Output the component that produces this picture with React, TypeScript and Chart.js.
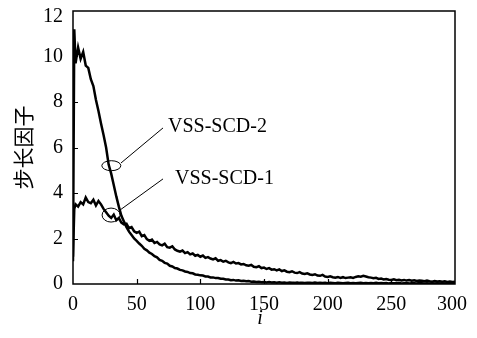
import React, { useEffect, useRef } from "react";
import { Chart, registerables } from "chart.js";

Chart.register(...registerables);

// ---------- data ----------
const iterations = [
  0, 1,
  2, 4, 6, 8, 10, 12, 14, 16, 18, 20,
  22, 24, 26, 28, 30, 32, 34, 36, 38, 40,
  42, 44, 46, 48, 50, 52, 54, 56, 58, 60,
  62, 64, 66, 68, 70, 72, 74, 76, 78, 80,
  82, 84, 86, 88, 90, 92, 94, 96, 98, 100,
  102, 104, 106, 108, 110, 112, 114, 116, 118, 120,
  122, 124, 126, 128, 130, 132, 134, 136, 138, 140,
  142, 144, 146, 148, 150, 152, 154, 156, 158, 160,
  162, 164, 166, 168, 170, 172, 174, 176, 178, 180,
  182, 184, 186, 188, 190, 192, 194, 196, 198, 200,
  202, 204, 206, 208, 210, 212, 214, 216, 218, 220,
  222, 224, 226, 228, 230, 232, 234, 236, 238, 240,
  242, 244, 246, 248, 250, 252, 254, 256, 258, 260,
  262, 264, 266, 268, 270, 272, 274, 276, 278, 280,
  282, 284, 286, 288, 290, 292, 294, 296, 298, 300,
];

const vssScd2 = [
  1.0, 11.2,
  9.7, 10.4, 9.9, 10.2, 9.6, 9.5, 9.0, 8.7, 8.1, 7.6,
  7.05, 6.55, 6.0, 5.25, 4.85, 4.35, 3.85, 3.4, 3.0, 2.75,
  2.5, 2.3, 2.15, 2.0, 1.9, 1.78, 1.68, 1.55, 1.48, 1.38,
  1.32, 1.22, 1.17, 1.06, 1.02, 0.93, 0.9, 0.8, 0.77, 0.7,
  0.68, 0.62, 0.6, 0.55, 0.53, 0.48, 0.47, 0.42, 0.41, 0.38,
  0.37, 0.33, 0.33, 0.29, 0.29, 0.26, 0.26, 0.23, 0.23, 0.2,
  0.2, 0.17, 0.18, 0.15, 0.16, 0.13, 0.14, 0.12, 0.13, 0.1,
  0.11, 0.09, 0.1, 0.08, 0.09, 0.07, 0.09, 0.07, 0.08, 0.06,
  0.08, 0.06, 0.07, 0.05, 0.07, 0.06, 0.05, 0.07, 0.05, 0.06,
  0.04, 0.06, 0.05, 0.04, 0.06, 0.04, 0.05, 0.04, 0.05, 0.03,
  0.05, 0.04, 0.03, 0.05, 0.04, 0.03, 0.04, 0.05, 0.03, 0.04,
  0.03, 0.04, 0.05, 0.03, 0.04, 0.03, 0.04, 0.03, 0.05, 0.03,
  0.04, 0.03, 0.04, 0.02, 0.04, 0.03, 0.03, 0.04, 0.02, 0.03,
  0.04, 0.02, 0.03, 0.03, 0.02, 0.04, 0.03, 0.02, 0.03, 0.02,
  0.03, 0.02, 0.03, 0.02, 0.03, 0.02, 0.03, 0.02, 0.02, 0.03,
];

const vssScd1 = [
  1.2, 3.3,
  3.5, 3.4, 3.6, 3.5, 3.8, 3.6, 3.55, 3.7, 3.45, 3.65,
  3.5, 3.3, 3.15, 3.0, 2.9, 3.05, 2.8, 2.9, 2.7, 2.62,
  2.65, 2.45, 2.5, 2.32, 2.25, 2.3, 2.1, 2.15, 1.97, 1.9,
  1.95, 1.8, 1.85, 1.74, 1.7, 1.77, 1.62, 1.6, 1.66, 1.52,
  1.46, 1.42, 1.47, 1.36, 1.4, 1.3, 1.34, 1.24, 1.28, 1.2,
  1.25, 1.15, 1.18, 1.12, 1.08, 1.13, 1.02, 1.05, 0.98, 1.02,
  0.95, 0.92, 0.97, 0.9, 0.92, 0.86, 0.88, 0.82, 0.8, 0.84,
  0.76, 0.74, 0.78, 0.7, 0.72, 0.66, 0.7, 0.63, 0.65, 0.6,
  0.64, 0.57, 0.6, 0.54, 0.52, 0.56, 0.5, 0.48, 0.52, 0.46,
  0.44, 0.47, 0.42, 0.4, 0.43, 0.37, 0.36, 0.4, 0.33, 0.31,
  0.34, 0.3, 0.28, 0.31, 0.27, 0.3, 0.26, 0.28, 0.3, 0.27,
  0.31, 0.34, 0.32, 0.36, 0.33, 0.3, 0.28, 0.25, 0.27, 0.22,
  0.24, 0.2, 0.22, 0.19, 0.18, 0.21, 0.17, 0.19, 0.16, 0.18,
  0.15, 0.17, 0.14, 0.16, 0.13, 0.15, 0.14, 0.12, 0.15, 0.12,
  0.1, 0.13, 0.11, 0.12, 0.1, 0.12, 0.09, 0.11, 0.09, 0.1,
];

const xMin = 0;
const xMax = 300;
const xStep = 50;
const yMin = 0;
const yMax = 12;
const yStep = 2;

const yAxisTitle = "步长因子";
const xAxisTitle = "i";
const seriesNames = ["VSS-SCD-1", "VSS-SCD-2"];

// callouts: ellipse centre / line start / line end / text anchor in data units
const callouts = [
  { text: "VSS-SCD-2", ellipse: [30.1, 5.2], rx: 9.5, ry: 5, from: [37.7, 5.32], to: [70.7, 6.86], label: [74.6, 6.92] },
  { text: "VSS-SCD-1", ellipse: [29.9, 3.03], rx: 9, ry: 7, from: [36.9, 3.25], to: [70.7, 4.62], label: [80.1, 4.64] },
];

const SERIF = "'Liberation Serif', 'Times New Roman', serif";
const CJK = "'Noto Sans CJK SC', 'Noto Sans CJK JP', sans-serif";
const CANVAS_W = 477;

const decorPlugin = {
  id: "decor",
  afterDatasetsDraw(chart: any) {
    const { ctx, chartArea: a, scales } = chart;
    const x = scales.x;
    const y = scales.y;
    ctx.save();
    // frame
    ctx.strokeStyle = "#000";
    ctx.lineWidth = 1.5;
    ctx.strokeRect(a.left, a.top, a.right - a.left, a.bottom - a.top);
    // inward ticks
    ctx.lineWidth = 1.2;
    ctx.beginPath();
    for (const t of x.ticks) {
      if (t.value <= xMin || t.value >= xMax) continue;
      const px = Math.round(x.getPixelForValue(t.value)) + 0.5;
      ctx.moveTo(px, a.bottom);
      ctx.lineTo(px, a.bottom - 5);
    }
    for (const t of y.ticks) {
      if (t.value <= yMin || t.value >= yMax) continue;
      const py = Math.round(y.getPixelForValue(t.value)) + 0.5;
      ctx.moveTo(a.left, py);
      ctx.lineTo(a.left + 5, py);
    }
    ctx.stroke();

    // tick labels
    ctx.fillStyle = "#000";
    ctx.font = `20px ${SERIF}`;
    ctx.textBaseline = "middle";
    ctx.textAlign = "right";
    for (const t of y.ticks) {
      const py = Math.max(y.getPixelForValue(t.value), a.top + 6);
      ctx.fillText(String(t.value), a.left - 10, py);
    }
    ctx.textAlign = "center";
    for (const t of x.ticks) {
      const s = String(t.value);
      const w = ctx.measureText(s).width;
      const px = Math.min(x.getPixelForValue(t.value), CANVAS_W - 10 - w / 2);
      ctx.fillText(s, px, a.bottom + 21);
    }

    // callouts
    ctx.lineWidth = 1;
    ctx.textAlign = "left";
    for (const c of callouts) {
      const ex = x.getPixelForValue(c.ellipse[0]);
      const ey = y.getPixelForValue(c.ellipse[1]);
      ctx.beginPath();
      ctx.ellipse(ex, ey, c.rx, c.ry, 0, 0, Math.PI * 2);
      ctx.stroke();
      ctx.beginPath();
      ctx.moveTo(x.getPixelForValue(c.from[0]), y.getPixelForValue(c.from[1]));
      ctx.lineTo(x.getPixelForValue(c.to[0]), y.getPixelForValue(c.to[1]));
      ctx.stroke();
      ctx.fillText(c.text, x.getPixelForValue(c.label[0]), y.getPixelForValue(c.label[1]));
    }

    // axis titles
    ctx.font = `italic 20px ${SERIF}`;
    ctx.textAlign = "center";
    ctx.fillText(xAxisTitle, (a.left + a.right) / 2 - 4, 319);

    ctx.save();
    ctx.translate(23, (a.top + a.bottom) / 2);
    ctx.rotate(-Math.PI / 2);
    ctx.font = `21px ${CJK}`;
    ctx.fillText(yAxisTitle, 0, 0);
    ctx.restore();

    ctx.restore();
  },
};

export default function App() {
  const canvasRef = useRef<HTMLCanvasElement | null>(null);

  useEffect(() => {
    const canvas = canvasRef.current;
    if (!canvas) return;
    const chart = new Chart(canvas, {
      type: "line",
      data: {
        datasets: [
          {
            label: seriesNames[1],
            data: iterations.map((it, k) => ({ x: it, y: vssScd2[k] })),
            borderColor: "#000",
            borderWidth: 2.5,
            pointRadius: 0,
            tension: 0,
            fill: false,
          },
          {
            label: seriesNames[0],
            data: iterations.map((it, k) => ({ x: it, y: vssScd1[k] })),
            borderColor: "#000",
            borderWidth: 2.5,
            pointRadius: 0,
            tension: 0,
            fill: false,
          },
        ],
      },
      options: {
        animation: false,
        responsive: false,
        devicePixelRatio: 1,
        layout: { padding: { top: 11, right: 22, left: 0, bottom: 0 } },
        plugins: {
          legend: { display: false },
          tooltip: { enabled: false },
          title: { display: false },
        },
        scales: {
          x: {
            type: "linear",
            min: xMin,
            max: xMax,
            ticks: { stepSize: xStep, display: false },
            grid: { display: false, drawTicks: false },
            border: { display: false },
            afterFit: (s: any) => {
              s.height = 54;
            },
          },
          y: {
            type: "linear",
            min: yMin,
            max: yMax,
            ticks: { stepSize: yStep, display: false },
            grid: { display: false, drawTicks: false },
            border: { display: false },
            afterFit: (s: any) => {
              s.width = 73;
            },
          },
        },
      },
      plugins: [decorPlugin],
    });
    return () => chart.destroy();
  }, []);

  return (
    <div style={{ position: "fixed", left: 0, top: 0, width: 477, height: 338, background: "#fff" }}>
      <canvas ref={canvasRef} width={477} height={338} style={{ display: "block" }} />
    </div>
  );
}
